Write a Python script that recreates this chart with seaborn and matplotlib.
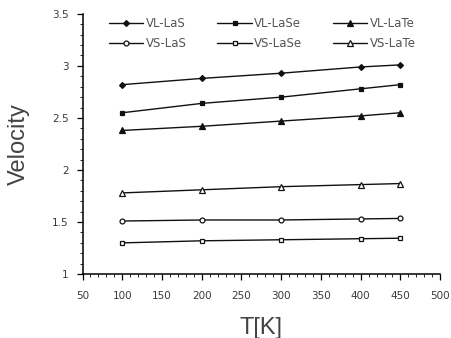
import pandas as pd
import matplotlib.pyplot as plt
import seaborn as sns
from matplotlib.ticker import MultipleLocator

sns.set_theme(style="ticks")
plt.rcParams['font.family'] = ['Liberation Sans', 'DejaVu Sans']

# data
temps = [100, 200, 300, 400, 450]
vl_las = [2.82, 2.88, 2.93, 2.99, 3.01]
vl_lase = [2.55, 2.64, 2.70, 2.78, 2.82]
vl_late = [2.38, 2.42, 2.47, 2.52, 2.55]
vs_las = [1.51, 1.52, 1.52, 1.53, 1.535]
vs_lase = [1.30, 1.32, 1.33, 1.34, 1.345]
vs_late = [1.78, 1.81, 1.84, 1.86, 1.87]

series = {
    'VL-LaS': vl_las, 'VL-LaSe': vl_lase, 'VL-LaTe': vl_late,
    'VS-LaS': vs_las, 'VS-LaSe': vs_lase, 'VS-LaTe': vs_late,
}
rows = []
for name, vals in series.items():
    for t, v in zip(temps, vals):
        rows.append({'T': t, 'V': v, 'serie': name})
df = pd.DataFrame(rows)

order = list(series.keys())
markers = {'VL-LaS': 'D', 'VL-LaSe': 's', 'VL-LaTe': '^',
           'VS-LaS': 'o', 'VS-LaSe': 's', 'VS-LaTe': '^'}
sizes_mk = {'VL-LaS': 3, 'VL-LaSe': 3.5, 'VL-LaTe': 3.8,
            'VS-LaS': 3.5, 'VS-LaSe': 3.3, 'VS-LaTe': 3.8}

fig = plt.figure(figsize=(4.51, 3.38), dpi=100)
ax = fig.add_axes([0.183, 0.189, 0.793, 0.77])

for name in order:
    sub = df[df['serie'] == name]
    filled = name.startswith('VL')
    sns.lineplot(data=sub, x='T', y='V', ax=ax, color='#111111', linewidth=1.0,
                 marker=markers[name], markersize=sizes_mk[name],
                 markerfacecolor='#111111' if filled else 'white',
                 markeredgecolor='#111111', markeredgewidth=0.9, label=name)

ax.set_xlim(50, 500)
ax.set_ylim(1, 3.5)
ax.xaxis.set_major_locator(MultipleLocator(50))
ax.xaxis.set_minor_locator(MultipleLocator(10))
ax.yaxis.set_major_locator(MultipleLocator(0.5))
ax.yaxis.set_minor_locator(MultipleLocator(0.1))
ax.set_yticks([1, 1.5, 2, 2.5, 3, 3.5])
ax.set_yticklabels(['1', '1.5', '2', '2.5', '3', '3.5'])
ax.tick_params(axis='both', which='major', labelsize=7.5, length=4, width=0.9,
               direction='out', colors='black', labelcolor='#3a3a3a')
ax.tick_params(axis='x', which='major', pad=8)
ax.tick_params(axis='y', which='major', pad=6)
ax.tick_params(axis='both', which='minor', length=2, width=0.7, direction='out')
for lab in ax.get_xticklabels() + ax.get_yticklabels():
    lab.set_family('DejaVu Sans')
for s in ['top', 'right']:
    ax.spines[s].set_visible(False)
for s in ['left', 'bottom']:
    ax.spines[s].set_linewidth(1.1)
    ax.spines[s].set_color('black')

ax.set_xlabel('T[K]', fontsize=17, color='#444444', labelpad=12)
ax.set_ylabel('Velocity', fontsize=17, color='#444444', labelpad=16)

# legend filled row by row, like the reference
h, l = ax.get_legend_handles_labels()
idx = [0, 3, 1, 4, 2, 5]
ax.legend([h[i] for i in idx], [l[i] for i in idx], ncol=3, loc='upper left',
          bbox_to_anchor=(0.045, 1.03), frameon=False,
          prop={'family': 'DejaVu Sans', 'size': 8.5},
          labelcolor='#555555', handlelength=2.9, handletextpad=0.2,
          columnspacing=2.6, labelspacing=0.6)

plt.savefig('out.png', dpi=100)
